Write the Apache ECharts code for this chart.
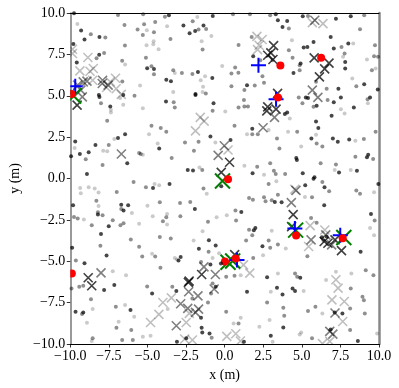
<!DOCTYPE html>
<html><head><meta charset="utf-8">
<script src="https://cdn.jsdelivr.net/npm/echarts@6/dist/echarts.min.js"></script>
<style>html,body{margin:0;padding:0;background:#fff}#c{width:399px;height:388px}</style>
</head><body><div id="c"></div>
<script>
const K = 0.9, G = 0.55, L = 0.26;
const xTicks = [-10, -7.5, -5, -2.5, 0, 2.5, 5, 7.5, 10];
const yTicks = [-10, -7.5, -5, -2.5, 0, 2.5, 5, 7.5, 10];

// small background dots [x, y, alpha]
const dots = [
[-9.76,9.98,K],[-6.91,9.88,G],[-5.28,9.92,G],[-3.87,9.78,G],[-3.61,9.86,K],[-0.77,9.82,K],[-1.77,9.76,L],
[-9.54,9.34,L],[-6.49,9.28,G],[-5.22,9.32,G],[-4.50,9.46,G],[-3.73,9.20,L],[-2.67,9.24,K],[-2.07,9.50,G],[-1.37,9.24,K],[-1.20,9.03,G],
[-9.30,8.94,K],[-8.67,8.72,G],[-8.11,8.55,K],[-7.73,8.52,G],[-5.64,9.00,G],[-5.30,8.67,G],[-5.04,8.96,L],[-4.58,8.84,G],[-3.51,8.43,G],[-2.27,8.78,K],[-1.91,8.91,K],[-1.69,9.00,G],[-0.86,8.61,L],
[-9.08,8.40,K],[-9.80,8.13,K],[-6.46,8.03,G],[-5.06,8.05,L],[-4.60,8.29,L],[-4.62,8.11,L],[-4.28,7.81,L],[-1.49,8.29,L],[-1.43,7.79,G],
[-7.81,7.59,G],[-8.13,7.47,K],[-8.30,7.27,G],[-5.10,7.29,G],[-9.58,7.01,K],[-6.64,7.11,G],[-6.45,6.89,L],[-5.02,6.66,K],[-4.74,6.79,G],[-4.58,6.62,K],[-4.58,6.30,G],[-3.33,6.54,G],[-3.23,6.38,L],[-2.77,6.38,G],[-2.09,6.32,G],[-1.73,6.44,K],[-1.27,6.18,L],[-0.80,6.08,K],[-1.55,5.94,L],[-0.16,6.80,L],[-3.78,5.96,K],[-3.48,5.88,K],[-6.63,5.86,G],[-5.48,5.62,L],[-1.40,5.54,L],[-1.43,5.22,L],[-3.33,5.22,L],[-1.89,5.10,K],[-1.22,5.14,G],[-8.15,5.04,K],
[0.54,9.92,G],[1.64,9.92,G],[2.95,9.86,G],[3.31,9.92,K],[3.45,9.56,K],[4.05,9.52,K],[3.75,9.16,K],[4.16,9.06,G],[5.06,9.80,K],[5.40,9.82,G],[7.21,9.66,K],[8.17,9.80,K],[9.04,9.86,G],[8.77,9.02,G],
[6.87,8.55,K],[7.07,7.85,K],[7.57,7.95,G],[8.01,8.15,K],[8.33,8.15,L],[9.74,8.05,G],[7.77,7.55,G],[7.67,7.35,L],[7.81,7.04,K],[7.81,6.64,K],[9.22,7.19,L],[9.68,7.39,G],[9.94,7.35,G],[9.54,6.54,G],[9.78,6.64,L],[9.92,5.38,K],[8.53,5.58,G],[7.37,5.42,K],[6.61,5.42,G],[5.92,5.84,G],
[5.12,7.91,K],[5.36,7.95,K],[5.76,8.25,K],[4.86,6.85,G],[4.92,6.95,K],[4.46,6.38,K],[4.86,6.54,G],[4.40,7.29,G],[4.16,7.75,G],[4.36,8.35,L],
[0.90,8.07,G],[1.75,8.55,G],[1.85,7.39,K],[0.68,6.71,G],[0.44,6.35,G],[0.89,6.39,G],[2.31,7.15,G],[2.45,6.18,G],[2.55,5.78,G],[1.45,5.64,K],[1.95,5.62,G],[1.28,5.34,G],[0.44,5.58,G],[3.11,7.15,G],[9.04,5.70,K],[8.27,6.04,L],
[-8.11,4.93,K],[-6.77,4.86,L],[-6.57,5.04,K],[-5.84,5.00,G],[-3.80,4.66,K],[-3.30,4.60,G],[-3.23,4.29,G],[-1.89,5.04,K],[-0.72,4.54,K],[-0.78,4.09,G],
[-8.01,4.54,G],[-7.41,4.35,K],[-7.37,4.15,L],[-7.37,3.99,L],[-6.57,4.45,L],[-5.30,4.25,L],[-7.61,3.49,G],[-4.74,3.18,G],[-4.14,3.05,G],[-3.78,2.82,G],[-4.90,2.68,L],[-6.45,2.68,K],[-6.91,2.44,K],[-7.15,2.38,L],[-7.51,2.02,G],[-8.37,2.02,K],[-9.68,2.24,K],[-9.72,1.84,L],[-9.38,1.48,K],[-8.81,1.58,K],[-9.00,1.16,G],[-7.87,1.68,L],[-7.61,1.64,L],[-9.95,1.34,K],[-7.91,0.82,G],[-6.31,0.92,K],[-5.54,1.54,G],[-5.44,1.48,G],[-5.30,1.44,L],[-4.24,1.82,K],[-3.43,1.24,G],[-4.34,2.12,L],[-2.57,2.18,G],[-1.99,1.68,G],[-1.69,2.22,G],[-0.92,2.54,K],[-0.60,2.18,L],[-8.92,0.27,K],[-2.39,0.51,K],[-2.05,0.49,K],[-1.63,0.67,L],[-1.45,0.51,G],
[1.25,4.75,G],[0.90,4.29,G],[1.28,4.35,G],[1.51,4.35,G],[0.04,4.05,L],[0.64,3.18,G],[1.79,3.00,K],[1.79,2.68,G],[1.45,2.68,L],[2.15,2.68,G],[2.85,2.93,L],[3.90,3.89,K],[4.05,3.99,K],[4.22,3.63,L],[3.39,2.42,G],[3.55,1.82,G],[4.11,2.82,L],[4.70,2.82,G],[4.80,4.90,G],[5.26,4.90,K],[5.40,4.86,K],[5.04,4.54,G],[5.76,4.33,G],[5.96,4.39,K],[6.67,4.75,G],[7.07,4.60,K],[7.53,4.90,K],[7.53,4.19,L],[7.77,3.93,L],[6.93,3.79,K],[8.37,4.29,K],[9.26,4.79,G],[9.42,4.90,K],[9.28,4.54,L],[9.78,2.82,G],[5.92,3.45,K],[6.07,3.05,K],[5.62,2.42,K],[5.92,2.64,L],[7.01,2.42,K],[7.33,2.22,K],[5.96,2.12,G],[6.33,1.94,G],[4.96,1.94,L],[8.07,2.36,K],[8.47,2.28,L],[9.02,2.38,G],[9.22,1.28,K],[9.30,1.44,K],[9.62,1.18,G],[8.47,1.32,G],[4.64,1.24,K],[4.68,1.12,K],[6.22,0.92,G],[7.21,0.84,G],[7.13,0.51,L],[7.41,0.37,K],[8.17,0.51,L],[8.57,0.47,K],[5.06,0.31,K],[5.82,0.07,K],[2.95,0.92,G],[2.11,0.71,G],[2.55,0.23,L],[3.19,0.47,G],[3.31,0.27,G],[3.92,0.27,G],[1.81,0.31,K],[1.28,0.77,L],[0.38,2.32,K],
[-9.36,-0.57,L],[-8.81,-0.53,L],[-8.42,-0.61,L],[-9.32,-0.89,L],[-8.17,-0.85,L],[-6.99,-0.81,G],[-5.90,-0.21,G],[-5.10,-0.53,G],[-4.64,-0.57,K],[-4.54,-0.33,L],[-4.24,-0.41,L],[-3.57,-0.33,K],[-1.37,-0.61,G],[-1.16,-0.92,L],[-0.22,-0.47,K],
[-9.82,-1.62,K],[-8.31,-1.34,G],[-8.17,-1.66,L],[-8.21,-2.04,G],[-8.21,-2.18,K],[-7.91,-2.22,G],[-6.70,-1.58,K],[-6.25,-1.62,K],[-6.55,-1.94,K],[-6.70,-1.84,G],[-6.01,-2.08,L],[-5.00,-1.64,L],[-4.20,-1.44,G],[-2.89,-1.48,G],[-2.23,-1.42,G],[-1.93,-1.84,K],
[-9.76,-2.32,G],[-9.52,-2.42,G],[-9.12,-2.48,L],[-8.61,-2.82,G],[-8.01,-3.35,K],[-7.51,-2.88,K],[-7.25,-2.52,G],[-6.75,-2.82,G],[-6.55,-2.70,G],[-5.54,-2.74,L],[-4.66,-2.28,L],[-4.00,-2.58,G],[-3.78,-2.34,G],[-3.73,-2.14,L],[-3.73,-2.78,L],[-2.87,-2.28,G],[-1.08,-2.62,G],[-0.52,-2.34,L],[-1.43,-3.18,L],
[-6.08,-3.69,G],[-4.20,-3.53,G],[-3.49,-3.63,G],[-2.01,-3.75,L],[-1.02,-3.73,K],[-8.05,-4.07,G],[-9.88,-4.19,K],[-5.54,-4.13,G],[-0.58,-4.05,K],[-1.67,-4.25,K],[-1.04,-4.43,G],[-0.36,-4.51,L],[-7.65,-4.65,K],[-5.34,-4.72,G],[-4.70,-4.55,L],[-4.50,-4.72,G],[-3.23,-4.80,L],[-3.09,-4.90,L],[-2.85,-4.75,K],[-2.99,-4.96,K],[-9.64,-4.96,G],[-9.08,-5.12,K],[-0.78,-4.80,L],[-1.53,-5.04,G],
[2.85,-0.33,G],[3.35,-0.17,L],[5.76,-0.01,K],[5.22,-0.41,K],[6.33,-0.21,G],[6.47,-0.53,K],[6.77,-0.77,G],[8.53,-0.73,G],[8.77,-0.92,G],[9.68,-0.83,L],[9.96,-0.33,K],[3.45,-0.98,G],[1.58,-1.18,G],[1.83,-1.28,G],[2.55,-1.14,G],[2.65,-1.38,G],[3.05,-1.32,G],[3.25,-1.42,K],[3.69,-1.44,K],[5.20,-1.12,L],[5.66,-1.14,G],[6.45,-1.62,K],[0.70,-1.94,G],[1.08,-2.02,K],[0.14,-2.22,L],[0.74,-2.54,G],[1.99,-2.99,K],[1.89,-3.13,K],[1.79,-3.43,G],[1.58,-3.09,G],[1.39,-3.75,G],[3.05,-3.15,L],[2.85,-3.75,G],[3.45,-3.99,G],[3.96,-4.23,L],[2.45,-4.09,K],[2.95,-4.19,G],[2.49,-4.63,L],[1.85,-4.80,G],[5.36,-4.70,G],[5.60,-2.38,G],[5.96,-2.68,G],[9.48,-2.14,K],[9.72,-2.54,G],[9.42,-2.99,L],[9.68,-3.43,L],[8.81,-4.43,K],[6.30,-3.55,K],[6.60,-3.50,K],[6.40,-3.75,G],
[-9.42,-6.54,G],[-9.16,-6.48,G],[-9.92,-6.65,G],[-7.81,-6.74,K],[-7.15,-6.44,K],[-7.25,-5.60,L],[-6.39,-5.84,L],[-4.16,-5.40,G],[-5.02,-6.52,G],[-4.70,-6.95,K],[-3.39,-6.54,G],[-3.13,-6.80,K],[-8.66,-7.29,G],[-8.55,-7.89,L],[-9.66,-8.05,K],[-9.24,-8.19,G],[-9.16,-8.09,K],[-8.92,-8.72,L],[-7.05,-7.75,G],[-6.45,-7.65,L],[-6.10,-7.95,K],[-5.86,-8.36,L],[-6.87,-8.66,L],[-7.01,-9.02,G],[-6.05,-9.16,G],[-8.55,-9.66,G],[-8.61,-9.82,L],[-6.64,-9.76,G],[-5.95,-9.76,G],[-5.30,-9.56,L],[-4.80,-9.50,L],[-3.09,-9.86,K],[-2.49,-9.66,K],[-1.53,-8.41,K],[-1.49,-9.02,K],[-1.45,-9.30,K],[-0.98,-9.36,K],[-0.84,-9.62,G],[-1.08,-7.49,G],[-0.88,-6.95,G],[-0.78,-6.35,G],[-0.58,-6.54,K],[-0.92,-5.20,K],[-0.24,-5.14,K],[-2.09,-7.25,G],[-3.69,-7.89,L],
[0.10,-5.94,G],[0.64,-5.88,G],[1.04,-5.84,L],[2.75,-5.96,K],[3.45,-5.74,L],[4.56,-5.74,G],[4.70,-5.94,G],[4.90,-6.00,K],[1.45,-6.84,K],[2.99,-6.84,L],[3.39,-6.60,K],[3.75,-7.01,K],[4.40,-6.64,K],[4.56,-6.80,K],[5.12,-6.80,L],[6.57,-6.14,L],[7.21,-5.64,L],[8.21,-5.74,L],[9.14,-5.54,G],[9.64,-5.84,G],[8.17,-6.64,G],[8.93,-7.15,G],[9.02,-7.35,G],[2.75,-7.49,G],[3.80,-7.81,G],[3.86,-8.29,G],[5.40,-8.01,G],[5.88,-7.75,G],[6.33,-8.15,L],[7.13,-8.09,K],[7.63,-8.15,K],[8.13,-7.85,G],[9.08,-8.15,G],[0.10,-8.05,G],[0.58,-8.76,L],[0.90,-8.76,G],[1.04,-8.41,L],[2.25,-8.96,L],[2.91,-8.55,L],[3.80,-9.00,K],[2.99,-9.50,K],[3.11,-9.86,L],[4.86,-9.42,L],[4.96,-9.30,L],[5.66,-9.66,G],[6.87,-9.12,K],[8.13,-9.16,G],[8.63,-9.82,K],[9.88,-9.36,L],[1.25,-9.86,K]
];

// gray cross markers [x, y, alpha]
const CK = 0.75, CG = 0.5, CL = 0.25;
const crosses = [
[-9.86,7.81,CL],[-9.86,7.55,CL],[-8.86,7.31,CL],[-9.38,6.50,CL],[-8.72,6.48,CL],[-8.51,6.65,CL],[-9.16,5.84,CG],[-8.92,5.88,CG],[-8.55,5.94,CL],[-7.91,5.94,CG],[-7.93,5.74,CG],[-7.55,5.64,CG],[-7.07,6.06,CL],[-7.03,5.42,CL],[-6.70,5.08,CL],[-9.52,5.64,CG],[-9.32,5.34,CG],[-9.22,4.93,CG],[-9.56,4.43,CK],[-7.65,5.50,CL],[-9.90,5.24,CG],[-7.41,5.84,CL],
[-6.69,1.48,CG],[-1.89,2.88,CL],[-1.58,3.69,CL],[-1.33,3.47,CL],
[5.68,9.42,CL],[6.37,9.36,CL],[5.84,9.56,CG],[2.09,8.59,CL],[2.43,8.40,CL],[2.23,8.05,CL],[2.13,7.79,CL],[3.17,8.03,CK],[2.99,7.59,CK],[2.79,7.45,CK],[3.13,7.19,CK],[5.80,7.29,CK],[6.76,6.97,CK],[6.48,6.62,CK],[6.14,6.14,CK],[5.68,5.34,CG],[6.04,4.90,CG],[3.43,5.14,CK],[2.79,4.33,CK],[2.73,4.09,CK],[3.33,4.19,CK],[3.23,3.69,CG],[2.49,3.07,CG],[-0.02,1.98,CG],[0.22,1.72,CL],[-0.42,1.40,CG],[0.32,0.98,CK],[-0.22,0.37,CK],
[4.54,-0.65,CL],[4.62,-0.72,CG],[4.32,-1.46,CG],[4.44,-2.18,CK],[4.34,-2.91,CK],[5.54,-2.85,CL],[5.60,-3.71,CG],[5.44,-4.11,CL],[6.49,-3.11,CL],[6.55,-3.41,CG],[6.45,-3.81,CK],[6.69,-3.91,CK],[6.93,-4.01,CG],[7.15,-3.71,CK],[7.57,-4.36,CK],[0.65,-4.60,CK],[1.63,-5.72,CL],[1.22,-5.22,CL],[7.21,-6.12,CL],[7.35,-6.62,CL],[6.95,-7.33,CL],[7.75,-7.43,CL],[7.15,-8.13,CG],[7.65,-8.64,CL],[6.81,-9.24,CG],[7.01,-9.40,CG],[6.81,-9.84,CL],[6.34,-9.98,CL],[0.14,-9.54,CL],[0.72,-9.38,CL],[1.02,-9.82,CL],
[-8.84,-6.00,CK],[-8.61,-6.48,CK],[-8.01,-5.70,CG],[-2.35,-6.28,CK],[-2.30,-6.20,CK],[-1.49,-5.80,CK],[-1.34,-5.34,CG],[-0.60,-5.80,CG],[-0.68,-6.68,CG],[-2.33,-6.84,CG],[-1.73,-7.09,CG],[-3.45,-7.21,CL],[-4.00,-7.49,CL],[-2.85,-7.57,CG],[-2.39,-7.85,CG],[-1.89,-8.09,CG],[-1.69,-7.89,CG],[-4.26,-8.21,CL],[-4.80,-8.70,CL],[-3.13,-8.90,CG],[-2.49,-8.70,CL],[-2.29,-8.15,CL],[-2.09,-9.76,CL],[-2.59,-9.70,CL]
];

const redPoints = [[3.61,6.83],[6.25,7.29],[3.45,4.90],[-9.92,5.10],[0.22,-0.05],[4.63,-3.45],[7.65,-3.61],[0.02,-5.02],[0.72,-4.84],[-9.90,-5.74]];
const bluePlus = [[2.19,6.85],[3.33,4.79],[-9.68,5.58],[4.55,-3.02],[7.49,-3.43],[0.80,-4.92]];
const greenX = [[-9.78,4.98],[-0.14,-0.15],[4.60,-3.12],[7.72,-3.56],[0.22,-5.06],[0.52,-4.98]];

const FONT = '"Liberation Serif","Times New Roman",serif';
const fmt = v => (v < 0 ? '\u2212' + Math.abs(v).toFixed(1) : v.toFixed(1));

function clipOf(params){
  const c = params.coordSys;
  return {type:'rect', shape:{x:c.x, y:c.y, width:c.width, height:c.height}};
}
function markRender(kind, size, lw, color){
  return function(params, api){
    const p = api.coord([api.value(0), api.value(1)]);
    const h = size/2;
    let d;
    if (kind === 'x') d = `M${p[0]-h},${p[1]-h}L${p[0]+h},${p[1]+h}M${p[0]-h},${p[1]+h}L${p[0]+h},${p[1]-h}`;
    else d = `M${p[0]-h},${p[1]}L${p[0]+h},${p[1]}M${p[0]},${p[1]-h}L${p[0]},${p[1]+h}`;
    const col = color || `rgba(0,0,0,${api.value(2)})`;
    return {type:'group', clipPath: clipOf(params), children:[
      {type:'path', shape:{pathData:d}, style:{fill:null, stroke:col, lineWidth:lw}}
    ]};
  };
}
function redRender(params, api){
  const p = api.coord([api.value(0), api.value(1)]);
  return {type:'group', clipPath: clipOf(params), children:[
    {type:'circle', shape:{cx:p[0], cy:p[1], r:4}, style:{fill:'#ff0000'}}
  ]};
}

const chart = echarts.init(document.getElementById('c'), null, {renderer:'canvas'});
const axisBase = {
  type:'value', min:-10, max:10, interval:2.5, splitLine:{show:false},
  axisLabel:{fontFamily:FONT, fontSize:14, color:'#000', formatter:fmt, margin:5},
  axisTick:{show:true, inside:false, length:3.5, lineStyle:{color:'#000', width:0.8}},
  nameTextStyle:{fontFamily:FONT, fontSize:14, color:'#000'}
};
chart.setOption({
  animation:false,
  grid:{left:47, right:20, top:13, bottom:44, containLabel:false},
  xAxis:[
    Object.assign({}, axisBase, {position:'bottom', name:'x (m)', nameLocation:'middle', nameGap:24,
      axisLine:{show:true, onZero:false, lineStyle:{color:'#000', width:1}}}),
    {type:'value', min:-10, max:10, position:'top', axisLine:{show:true, onZero:false, lineStyle:{color:'#000', width:1}},
      axisTick:{show:false}, axisLabel:{show:false}, splitLine:{show:false}}
  ],
  yAxis:[
    Object.assign({}, axisBase, {position:'left', name:'y (m)', nameLocation:'middle', nameGap:40,
      axisLine:{show:true, onZero:false, lineStyle:{color:'#777', width:1.5}}}),
    {type:'value', min:-10, max:10, position:'right', axisLine:{show:true, onZero:false, lineStyle:{color:'#888', width:2.5}},
      axisTick:{show:false}, axisLabel:{show:false}, splitLine:{show:false}}
  ],
  series:[
    {type:'scatter', data:dots, symbolSize:4, clip:true,
      itemStyle:{color:p => `rgba(0,0,0,${p.value[2]})`}},
    {type:'custom', data:crosses, renderItem:markRender('x', 9, 1.6), clip:true},
    {type:'custom', data:greenX, renderItem:markRender('x', 15, 2, '#008000')},
    {type:'custom', data:bluePlus, renderItem:markRender('+', 15, 2, '#0000ff')},
    {type:'custom', data:redPoints, renderItem:redRender}
  ]
});
</script></body></html>
